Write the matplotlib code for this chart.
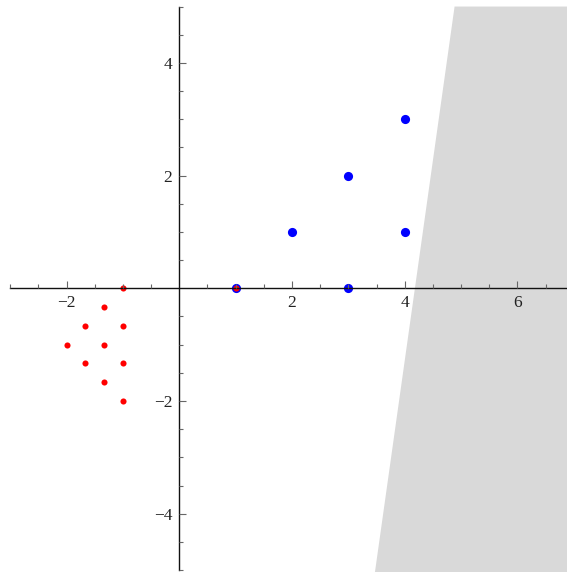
import matplotlib
matplotlib.use('Agg')
import matplotlib.pyplot as plt
import numpy as np

# points
blue_x = [1, 2, 3, 4, 4, 3]
blue_y = [0, 1, 2, 3, 1, 0]
red_x = [-1, -4/3, -5/3, -1, -2, -4/3, -5/3, -1, -4/3, -1, 1]
red_y = [0, -1/3, -2/3, -2/3, -1, -1, -4/3, -4/3, -5/3, -2, 0]

# shaded half-plane: left boundary (x at bottom, x at top)
region_y = [-5.05, 5.0]
region_left_x = [3.47, 4.885]
region_right_x = 7.0

x_major = [-2, 2, 4, 6]
y_major = [-4, -2, 2, 4]

plt.rcParams['font.family'] = ['Liberation Serif', 'DejaVu Serif']

fig = plt.figure(figsize=(5.67, 5.72), dpi=100)
ax = fig.add_axes([0, 0, 1, 1])

# gray region
poly_x = [region_left_x[0], region_left_x[1], region_right_x, region_right_x]
poly_y = [region_y[0], region_y[1], region_y[1], region_y[0]]
ax.fill(poly_x, poly_y, color='#d9d9d9', lw=0, zorder=0)

ax.plot(blue_x, blue_y, 'o', color='#0000ff', ms=6.6, mew=0, zorder=2)
ax.plot(red_x, red_y, 'o', color='#ff0000', ms=4.4, mew=0, zorder=2.1)

ax.set_xlim(-3.182, 6.88)
ax.set_ylim(-5.035, 5.116)

for side in ['top', 'right']:
    ax.spines[side].set_visible(False)
ax.spines['left'].set_position(('data', 0))
ax.spines['bottom'].set_position(('data', 0))
ax.spines['left'].set_bounds(-5, 5)
ax.spines['bottom'].set_bounds(-3, 6.88)
for side in ['left', 'bottom']:
    ax.spines[side].set_linewidth(1.0)
    ax.spines[side].set_color('#111111')
ax.set_axisbelow(False)

ax.set_xticks(x_major)
ax.set_yticks(y_major)
ax.set_xticklabels([str(v).replace('-', '\u2212') for v in x_major])
ax.set_yticklabels([str(v).replace('-', '\u2212') for v in y_major])
xminor = [v for v in np.arange(-3, 7, 0.5) if v not in x_major and v != 0]
yminor = [v for v in np.arange(-5, 5.01, 0.5) if v not in y_major and v != 0]
ax.set_xticks(xminor, minor=True)
ax.set_yticks(yminor, minor=True)

ax.tick_params(which='both', direction='in', color='#666666', width=0.8)
ax.tick_params(which='major', length=5, labelsize=12.5, labelcolor='#222222', pad=5)
ax.tick_params(which='minor', length=3)

fig.savefig('out.png', dpi=100)
